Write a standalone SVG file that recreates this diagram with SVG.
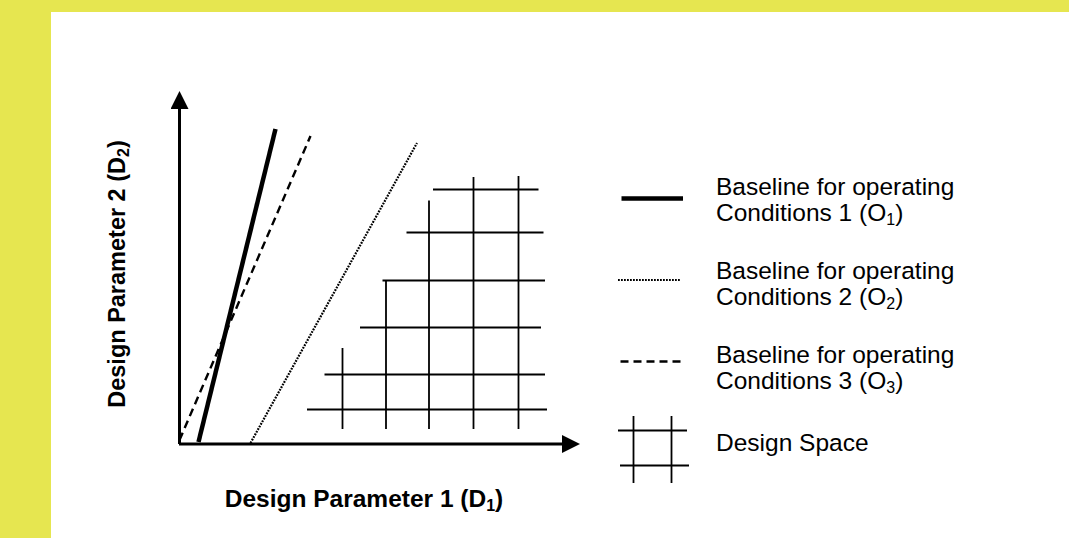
<svg xmlns="http://www.w3.org/2000/svg" width="1069" height="538" viewBox="0 0 1069 538">
<defs>
<style>
.lbl{font-family:"Liberation Sans",Arial,sans-serif;font-size:24.5px;font-weight:bold;fill:#000}
.ylbl{font-size:23.5px}
.leg{font-family:"Liberation Sans",Arial,sans-serif;font-size:24.5px;fill:#000}
.sub{font-size:16px}
.grid line{stroke:#000;stroke-width:1.8}
.axis{stroke:#000;stroke-width:3;fill:none}
.thick{stroke:#000;stroke-width:4.5;fill:none}
.dash{stroke:#000;stroke-width:2.4;stroke-dasharray:8 5;fill:none}
.dot{stroke:#000;stroke-width:2.2;stroke-dasharray:1.8 1.2;fill:none}
</style>
<marker id="arr" markerWidth="6" markerHeight="6" refX="0" refY="3" orient="auto" markerUnits="strokeWidth" viewBox="0 0 6 6">
<path d="M0,0 L6,3 L0,6 Z" fill="#000"/>
</marker>
</defs>
<rect x="0" y="0" width="1069" height="538" fill="#e6e650"/>
<rect x="51" y="12" width="1018" height="526" fill="#fff"/>

<g id="connectors">
<line id="x-axis" class="axis" x1="179" y1="444" x2="562" y2="444" marker-end="url(#arr)"/>
<line id="y-axis" class="axis" x1="179.5" y1="444" x2="179.5" y2="109" marker-end="url(#arr)"/>
<line id="baseline-o1" class="thick" x1="198.5" y1="442" x2="275.5" y2="129"/>
<line id="baseline-o3" class="dash" x1="179.5" y1="440" x2="310.5" y2="136"/>
<line id="baseline-o2" class="dot" x1="250.5" y1="443" x2="417" y2="143"/>
</g>

<g id="design-space" class="grid">
<line x1="433" y1="189.5" x2="538.5" y2="189.5"/>
<line x1="406.5" y1="232.5" x2="543.5" y2="232.5"/>
<line x1="382.5" y1="280.5" x2="545" y2="280.5"/>
<line x1="360" y1="327.5" x2="541" y2="327.5"/>
<line x1="324.5" y1="374.5" x2="545" y2="374.5"/>
<line x1="307" y1="409.5" x2="547" y2="409.5"/>
<line x1="342.5" y1="348" x2="342.5" y2="429"/>
<line x1="386" y1="280.5" x2="386" y2="429"/>
<line x1="429" y1="200.5" x2="429" y2="429"/>
<line x1="473.5" y1="177" x2="473.5" y2="429"/>
<line x1="518.5" y1="176" x2="518.5" y2="429"/>
</g>

<g id="x-label">
<text class="lbl" x="364" y="507" text-anchor="middle">Design Parameter 1 (D<tspan class="sub" dy="4">1</tspan><tspan dy="-4">)</tspan></text>
</g>
<g id="y-label">
<text class="lbl ylbl" transform="translate(125,274) rotate(-90)" text-anchor="middle">Design Parameter 2 (D<tspan class="sub" dy="4">2</tspan><tspan dy="-4">)</tspan></text>
</g>

<g id="legend-o1">
<line class="thick" x1="621.5" y1="198.5" x2="683" y2="198.5"/>
<text class="leg" x="716" y="195">Baseline for operating</text>
<text class="leg" x="716" y="221">Conditions 1 (O<tspan class="sub" dy="4">1</tspan><tspan dy="-4">)</tspan></text>
</g>
<g id="legend-o2">
<line class="dot" x1="618" y1="280" x2="681" y2="280"/>
<text class="leg" x="716" y="279">Baseline for operating</text>
<text class="leg" x="716" y="305">Conditions 2 (O<tspan class="sub" dy="4">2</tspan><tspan dy="-4">)</tspan></text>
</g>
<g id="legend-o3">
<line class="dash" x1="620.5" y1="361.5" x2="681" y2="361.5" stroke-dasharray="7.5 5"/>
<text class="leg" x="716" y="363">Baseline for operating</text>
<text class="leg" x="716" y="389">Conditions 3 (O<tspan class="sub" dy="4">3</tspan><tspan dy="-4">)</tspan></text>
</g>
<g id="legend-space" class="grid">
<line x1="618" y1="430.5" x2="687" y2="430.5"/>
<line x1="620" y1="465.5" x2="689" y2="465.5"/>
<line x1="633.5" y1="416" x2="633.5" y2="483"/>
<line x1="671.5" y1="416" x2="671.5" y2="483"/>
<text class="leg" x="716" y="451">Design Space</text>
</g>
</svg>
